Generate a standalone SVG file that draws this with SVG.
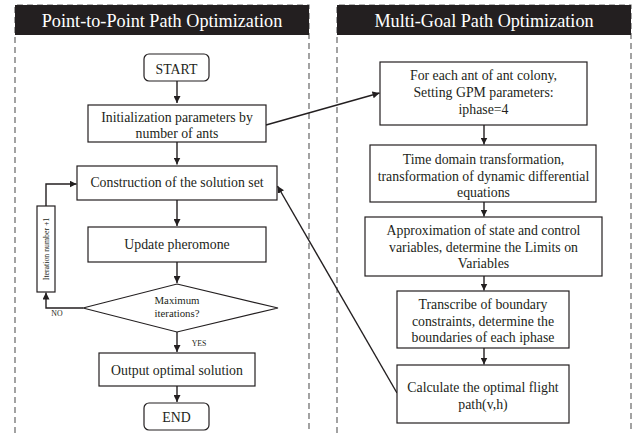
<svg xmlns="http://www.w3.org/2000/svg" width="636" height="433" viewBox="0 0 636 433">
<style>
.panel{fill:none;stroke:#666;stroke-width:1.2;stroke-dasharray:6 4}
.hdr{fill:#231f20}
.htxt{font-family:"Liberation Serif",serif;font-size:18.2px;fill:#fff;text-anchor:middle}
.box{fill:#fff;stroke:#231f20;stroke-width:1.2}
.t{font-family:"Liberation Serif",serif;font-size:13.8px;fill:#231f20;text-anchor:middle}
.s{font-family:"Liberation Serif",serif;font-size:10.8px;fill:#231f20;text-anchor:middle}
.xs{font-family:"Liberation Serif",serif;font-size:7.8px;fill:#231f20;text-anchor:middle}
.c{fill:none;stroke:#231f20;stroke-width:1.4}
</style>
<defs>
<marker id="ah" viewBox="0 0 10 10" refX="10" refY="5" markerWidth="7" markerHeight="7" markerUnits="userSpaceOnUse" orient="auto">
<path d="M0,0 L10,5 L0,10 z" fill="#231f20"/>
</marker>
</defs>
<g id="panel-left">
<path class="panel" d="M15,433 V5 H309 V433"/>
<rect class="hdr" x="15" y="5" width="294" height="30"/>
<text class="htxt" x="162" y="27">Point-to-Point Path Optimization</text>
</g>
<g id="panel-right">
<path class="panel" d="M337,433 V5 H631 V433"/>
<rect class="hdr" x="337" y="5" width="294" height="30"/>
<text class="htxt" x="484" y="27">Multi-Goal Path Optimization</text>
</g>
<g id="connectors">
<path class="c" d="M177,81 V103" marker-end="url(#ah)"/>
<path class="c" d="M177,142 V164.5" marker-end="url(#ah)"/>
<path class="c" d="M177,200 V226" marker-end="url(#ah)"/>
<path class="c" d="M177,262 V283" marker-end="url(#ah)"/>
<path class="c" d="M177,332 V352" marker-end="url(#ah)"/>
<path class="c" d="M177,386 V402" marker-end="url(#ah)"/>
<path class="c" d="M83,308 H46 V292.5" marker-end="url(#ah)"/>
<path class="c" d="M46,206 V184 H76.5" marker-end="url(#ah)"/>
<path class="c" d="M266,125 L379.5,93" marker-end="url(#ah)"/>
<path class="c" d="M397,393 L277.5,186" marker-end="url(#ah)"/>
<path class="c" d="M484,125 V144.5" marker-end="url(#ah)"/>
<path class="c" d="M484,202 V216.5" marker-end="url(#ah)"/>
<path class="c" d="M484,276 V290.5" marker-end="url(#ah)"/>
<path class="c" d="M484,348 V364.5" marker-end="url(#ah)"/>
<text class="xs" x="57" y="316">NO</text>
<text class="xs" x="199" y="346">YES</text>
</g>
<g id="start">
<rect class="box" x="144" y="54" width="65" height="27" rx="5"/>
<text class="t" x="176.5" y="74">START</text>
</g>
<g id="init">
<rect class="box" x="88" y="105" width="178" height="37"/>
<text class="t" x="177" y="122">Initialization parameters by</text>
<text class="t" x="177" y="138">number of ants</text>
</g>
<g id="construct">
<rect class="box" x="77" y="166" width="200" height="34"/>
<text class="t" x="177" y="187">Construction of the solution set</text>
</g>
<g id="update">
<rect class="box" x="88" y="227" width="178" height="35"/>
<text class="t" x="177" y="249">Update pheromone</text>
</g>
<g id="decision">
<path class="box" d="M177,284 L278,308 L177,332 L83,308 Z"/>
<text class="s" x="177" y="304">Maximum</text>
<text class="s" x="177" y="317">iterations?</text>
</g>
<g id="iteration">
<rect class="box" x="37" y="206" width="18" height="86"/>
<text class="xs" transform="translate(48.5,249) rotate(-90)" x="0" y="0">Iteration number +1</text>
</g>
<g id="output">
<rect class="box" x="99" y="353" width="156" height="33"/>
<text class="t" x="177" y="375">Output optimal solution</text>
</g>
<g id="end">
<rect class="box" x="144" y="403" width="65" height="27" rx="5"/>
<text class="t" x="176.5" y="422">END</text>
</g>
<g id="gpm">
<rect class="box" x="380" y="62" width="207" height="63"/>
<text class="t" x="483.5" y="80">For each ant of ant colony,</text>
<text class="t" x="483.5" y="97">Setting GPM parameters:</text>
<text class="t" x="483.5" y="114">iphase=4</text>
</g>
<g id="time">
<rect class="box" x="370" y="145" width="226" height="57"/>
<text class="t" x="483.5" y="164">Time domain transformation,</text>
<text class="t" x="483.5" y="181">transformation of dynamic differential</text>
<text class="t" x="483.5" y="197">equations</text>
</g>
<g id="approx">
<rect class="box" x="365" y="217" width="237" height="59"/>
<text class="t" x="483.5" y="235">Approximation of state and control</text>
<text class="t" x="483.5" y="252">variables, determine the Limits on</text>
<text class="t" x="483.5" y="268">Variables</text>
</g>
<g id="transcribe">
<rect class="box" x="397" y="291" width="172" height="57"/>
<text class="t" x="483" y="309">Transcribe of boundary</text>
<text class="t" x="483" y="326">constraints, determine the</text>
<text class="t" x="483" y="342">boundaries of each iphase</text>
</g>
<g id="calc">
<rect class="box" x="397" y="365" width="172" height="58"/>
<text class="t" x="483" y="392">Calculate the optimal flight</text>
<text class="t" x="483" y="409">path(v,h)</text>
</g>
</svg>
